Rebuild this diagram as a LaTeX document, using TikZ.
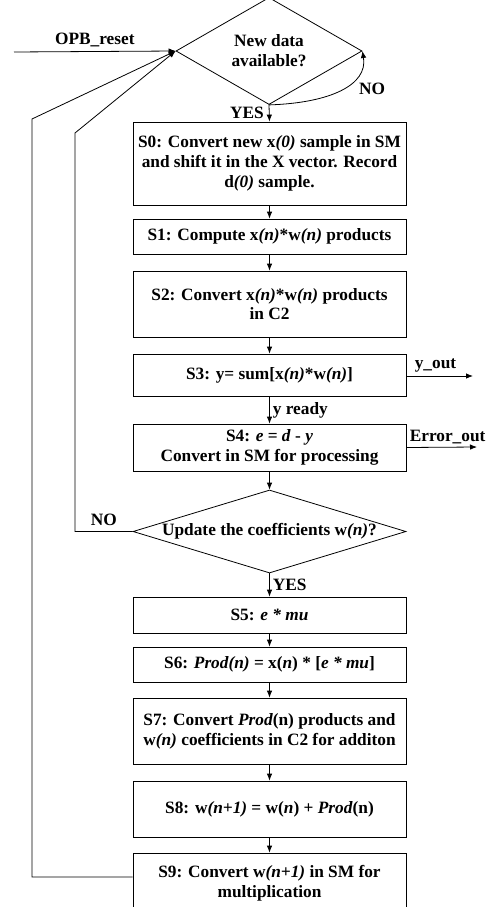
\documentclass[tikz,border=0pt]{standalone}
\usepackage{fontspec}
\setmainfont{Liberation Serif}
\usetikzlibrary{shapes.geometric,arrows.meta,calc}
\begin{document}
\begin{tikzpicture}[x=1pt,y=-1pt,
  font=\fontsize{17.3}{19.8}\selectfont\bfseries,
  stepbox/.style={draw, line width=0.8pt, minimum width=273pt, inner sep=0pt, align=center},
  decision/.style={draw, diamond, line width=0.8pt, inner sep=0pt, align=center},
  flow/.style={draw, line width=0.8pt, -{Latex[length=7pt,width=5.5pt]}},
  lbl/.style={inner sep=0pt}]
\useasboundingbox (0,0) rectangle (489,907);

% decision nodes
\node[decision, minimum width=186pt, minimum height=84pt] (d1) at (269,51) {New data\\available?};
\node[decision, minimum width=273pt, minimum height=83pt, aspect=3.3] (d2) at (269.5,531.5) {Update the coefficients w\textit{(n)}?};

% processing steps
\node[stepbox, minimum height=83pt] (s0) at (269.5,163.5) {S0: Convert new x\textit{(0)} sample in SM\\and shift it in the X vector. Record\\d\textit{(0)} sample.};
\node[stepbox, minimum height=35pt] (s1) at (269.5,236.5) {S1: Compute x\textit{(n)}*w\textit{(n)} products};
\node[stepbox, minimum height=66pt] (s2) at (269.5,304) {S2: Convert x\textit{(n)}*w\textit{(n)} products\\in C2};
\node[stepbox, minimum height=42pt] (s3) at (269.5,375) {S3: y= sum[x\textit{(n)}*w\textit{(n)}]};
\node[stepbox, minimum height=47pt] (s4) at (269.5,447.5) {S4: \textit{e} = \textit{d} - \textit{y}\\Convert in SM for processing};
\node[stepbox, minimum height=36pt] (s5) at (269.5,615) {S5: \textit{e * mu}};
\node[stepbox, minimum height=35pt] (s6) at (269.5,664.5) {S6: \textit{Prod(n)} = x(\textit{n}) * [\textit{e * mu}]};
\node[stepbox, minimum height=66pt] (s7) at (269.5,731) {S7: Convert \textit{Prod}(n) products and\\w\textit{(n)} coefficients in C2 for additon};
\node[stepbox, minimum height=56pt] (s8) at (269.5,809) {S8: w\textit{(n+1)} = w(\textit{n}) + \textit{Prod}(n)};
\node[stepbox, minimum height=60pt] (s9) at (269.5,883) {S9: Convert w\textit{(n+1)} in SM for\\multiplication};

% free line ends
\coordinate (rst) at (14,52);
\coordinate (yo) at (473,376);
\coordinate (eo) at (477,447);
\coordinate (fbA) at (75,133);
\coordinate (fbB) at (32,119);
\coordinate (fbC) at (32,877);

% main flow
\draw[flow] (rst) -- node[above=4pt, lbl]{OPB\_reset} (d1.west);
\draw[flow] (d1.south) -- node[left=5pt, lbl]{YES} (s0.north);
\draw[flow] (d1.south) .. controls (330,103) and (368,85) .. (d1.east);
\node[lbl] (no1) at (372,89) {NO};
\draw[flow] (s0) -- (s1);
\draw[flow] (s1) -- (s2);
\draw[flow] (s2) -- (s3);
\draw[flow] (s3) -- node[right=3pt, lbl]{y ready} (s4);
\draw[flow] (s4) -- (d2);
\draw[flow] (d2.south) -- node[right=3pt, lbl]{YES} (s5.north);
\draw[flow] (s5) -- (s6);
\draw[flow] (s6) -- (s7);
\draw[flow] (s7) -- (s8);
\draw[flow] (s8) -- (s9);

% outputs
\draw[flow] (s3.east |- yo) -- node[pos=0, anchor=south west, xshift=8pt, yshift=3pt, lbl]{y\_out} (yo);
\draw[flow] (s4.east) -- node[pos=0, anchor=south west, xshift=3pt, yshift=3pt, lbl]{Error\_out} (eo);

% feedback paths
\draw[flow] (d2.west) -- node[above=5pt, lbl]{NO} (d2.west -| fbA) -- (fbA) -- (d1.west);
\draw[flow] (s9.west |- fbC) -- (fbC) -- (fbB) -- (d1.west);
\end{tikzpicture}
\end{document}
